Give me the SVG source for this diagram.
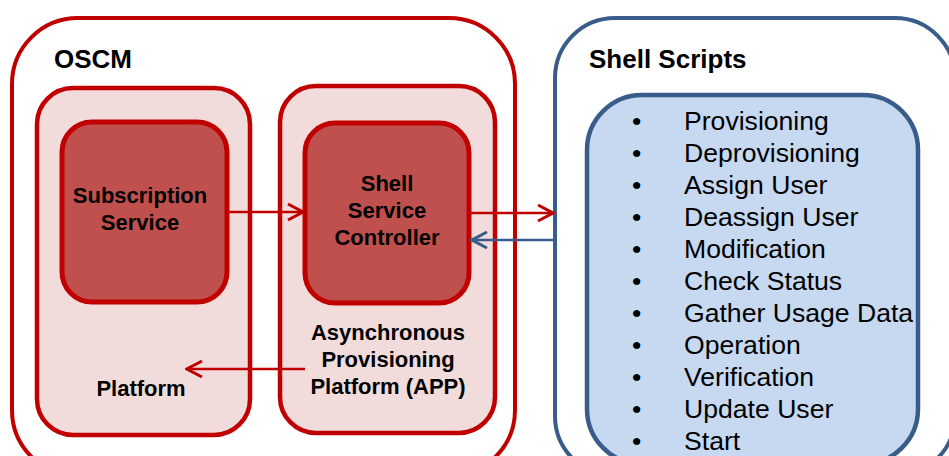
<svg xmlns="http://www.w3.org/2000/svg" width="949" height="456" viewBox="0 0 949 456">
<style>
.outerR{fill:#fff;stroke:#C00000;stroke-width:4}
.pale{fill:#F2DCDB;stroke:#C00000;stroke-width:4.5}
.dark{fill:#C0504D;stroke:#C00000;stroke-width:5}
.outerB{fill:#fff;stroke:#385D8A;stroke-width:4}
.inB{fill:#C6D9F1;stroke:#385D8A;stroke-width:4.5}
.t{font-family:"Liberation Sans",Arial,sans-serif;fill:#000}
.h{font-size:26px;font-weight:bold}
.l{font-size:22px;font-weight:bold;text-anchor:middle}
.li{font-size:26.6px}
.cr{fill:none;stroke:#C00000;stroke-width:2.5}
.cb{fill:none;stroke:#385D8A;stroke-width:2.5}
</style>
<defs>
<marker id="ar" viewBox="0 0 20 20" refX="18" refY="10" markerWidth="20" markerHeight="20" markerUnits="userSpaceOnUse" orient="auto">
<path d="M3,2 L18,10 L3,18" fill="none" stroke="#C00000" stroke-width="3"/>
</marker>
<marker id="ab" viewBox="0 0 20 20" refX="18" refY="10" markerWidth="20" markerHeight="20" markerUnits="userSpaceOnUse" orient="auto">
<path d="M3,2 L18,10 L3,18" fill="none" stroke="#385D8A" stroke-width="3"/>
</marker>
</defs>
<g id="oscm">
<rect class="outerR" x="12" y="18" width="503" height="458" rx="66"/>
<text class="t h" x="54" y="68">OSCM</text>
</g>
<g id="platform">
<rect class="pale" x="37" y="88" width="213" height="347" rx="36"/>
<text class="t l" x="141" y="396">Platform</text>
</g>
<g id="app">
<rect class="pale" x="280" y="86" width="215" height="347" rx="36"/>
<text class="t l" x="388" y="340">Asynchronous</text>
<text class="t l" x="388" y="367">Provisioning</text>
<text class="t l" x="388" y="394">Platform (APP)</text>
</g>
<g id="subscription">
<rect class="dark" x="62" y="122" width="165" height="180" rx="30"/>
<text class="t l" x="140" y="203">Subscription</text>
<text class="t l" x="140" y="230">Service</text>
</g>
<g id="ssc">
<rect class="dark" x="305" y="123" width="164" height="180" rx="30"/>
<text class="t l" x="387" y="191">Shell</text>
<text class="t l" x="387" y="218">Service</text>
<text class="t l" x="387" y="245">Controller</text>
</g>
<g id="shellscripts">
<rect class="outerB" x="555" y="18" width="400" height="458" rx="60"/>
<text class="t h" x="589" y="68">Shell Scripts</text>
</g>
<g id="scriptlist">
<rect class="inB" x="587" y="95" width="331" height="369" rx="55"/>
<g class="t li">
<text x="632" y="130">•</text><text x="684" y="130">Provisioning</text>
<text x="632" y="162">•</text><text x="684" y="162">Deprovisioning</text>
<text x="632" y="194">•</text><text x="684" y="194">Assign User</text>
<text x="632" y="226">•</text><text x="684" y="226">Deassign User</text>
<text x="632" y="258">•</text><text x="684" y="258">Modification</text>
<text x="632" y="290">•</text><text x="684" y="290">Check Status</text>
<text x="632" y="322">•</text><text x="684" y="322">Gather Usage Data</text>
<text x="632" y="354">•</text><text x="684" y="354">Operation</text>
<text x="632" y="386">•</text><text x="684" y="386">Verification</text>
<text x="632" y="418">•</text><text x="684" y="418">Update User</text>
<text x="632" y="450">•</text><text x="684" y="450">Start</text>
</g>
</g>
<g id="connectors">
<line class="cr" x1="227" y1="212" x2="303" y2="212" marker-end="url(#ar)"/>
<line class="cr" x1="469" y1="213" x2="553" y2="213" marker-end="url(#ar)"/>
<line class="cb" x1="555" y1="240" x2="472" y2="240" marker-end="url(#ab)"/>
<line class="cr" x1="305" y1="369" x2="187" y2="369" marker-end="url(#ar)"/>
</g>
</svg>
